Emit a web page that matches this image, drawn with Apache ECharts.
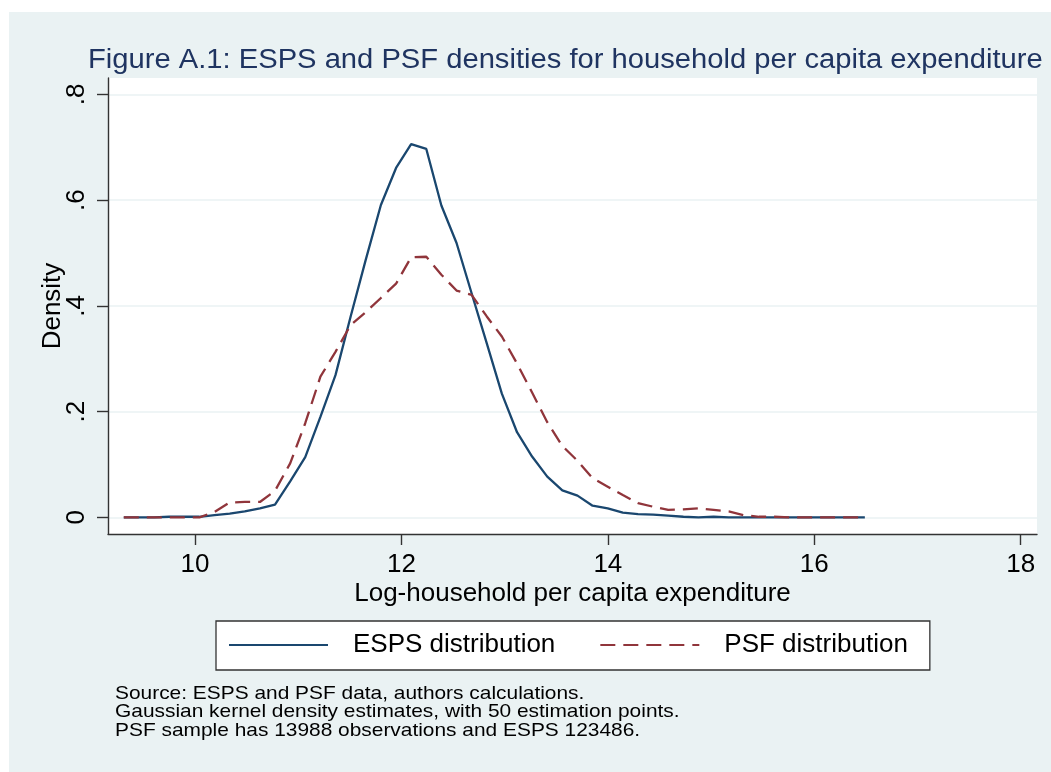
<!DOCTYPE html>
<html><head><meta charset="utf-8">
<script src="https://cdn.jsdelivr.net/npm/echarts@6.0.0/dist/echarts.min.js"></script>
<style>html,body{margin:0;padding:0;background:#fff}#c{width:1051px;height:772px}</style>
</head><body><div id="c"></div>
<script>
const xValues = [
  9.310, 9.457, 9.603, 9.750, 9.896, 10.043, 10.189, 10.336, 10.482, 10.629,
  10.775, 10.922, 11.068, 11.215, 11.361, 11.508, 11.654, 11.801, 11.948, 12.094,
  12.241, 12.387, 12.534, 12.680, 12.827, 12.973, 13.120, 13.266, 13.413, 13.559,
  13.706, 13.852, 13.999, 14.145, 14.292, 14.439, 14.585, 14.732, 14.878, 15.025,
  15.171, 15.318, 15.464, 15.611, 15.757, 15.904, 16.050, 16.197, 16.343, 16.490
];
const espsDensity = [
  0.000, 0.000, 0.000, 0.001, 0.001, 0.001, 0.004, 0.007, 0.011, 0.017,
  0.024, 0.068, 0.114, 0.190, 0.269, 0.380, 0.487, 0.591, 0.661, 0.706,
  0.697, 0.590, 0.519, 0.424, 0.329, 0.234, 0.161, 0.115, 0.077, 0.051,
  0.041, 0.022, 0.017, 0.009, 0.006, 0.005, 0.003, 0.001, 0.000, 0.001,
  0.000, 0.000, 0.000, 0.000, 0.000, 0.000, 0.000, 0.000, 0.000, 0.000
];
const psfDensity = [
  0.000, 0.000, 0.000, 0.000, 0.000, 0.000, 0.010, 0.028, 0.029, 0.029,
  0.050, 0.102, 0.178, 0.266, 0.313, 0.364, 0.388, 0.415, 0.442, 0.492,
  0.493, 0.459, 0.429, 0.421, 0.380, 0.342, 0.291, 0.236, 0.180, 0.135,
  0.107, 0.074, 0.058, 0.042, 0.027, 0.020, 0.014, 0.015, 0.017, 0.014,
  0.011, 0.004, 0.001, 0.001, 0.000, 0.000, 0.000, 0.000, 0.000, 0.000
];
const seriesNames = ['ESPS distribution', 'PSF distribution'];
const xTicks = [10, 12, 14, 16, 18];
const yTicks = [0, 0.2, 0.4, 0.6, 0.8];
const yTickLabels = ['0', '.2', '.4', '.6', '.8'];
const titleText = 'Figure A.1: ESPS and PSF densities for household per capita expenditure';
const xTitle = 'Log-household per capita expenditure';
const yTitle = 'Density';
const noteLines = [
  'Source: ESPS and PSF data, authors calculations.',
  'Gaussian kernel density estimates, with 50 estimation points.',
  'PSF sample has 13988 observations and ESPS 123486.'
];

const FONT = '"Liberation Sans", Arial, Helvetica, sans-serif';
const chart = echarts.init(document.getElementById('c'), null, {renderer: 'canvas'});

const graphics = [
  {type: 'rect', shape: {x: 0, y: 0, width: 1051, height: 12}, style: {fill: '#ffffff'}, silent: true},
  {type: 'rect', shape: {x: 0, y: 0, width: 9, height: 772}, style: {fill: '#ffffff'}, silent: true},
  {type: 'text', x: 88, y: 47, scaleX: 1.08, scaleY: 1,
   style: {text: titleText, x: 0, y: 0, fill: '#1f3461', font: '27px ' + FONT, textVerticalAlign: 'top', verticalAlign: 'top'}}
];
noteLines.forEach((t, i) => {
  graphics.push({type: 'text', x: 115, y: 684 + i * 18.5, scaleX: 1.1, scaleY: 1,
    style: {text: t, x: 0, y: 0, fill: '#000', font: '19px ' + FONT, textVerticalAlign: 'top', verticalAlign: 'top'}});
});

const option = {
  backgroundColor: '#eaf2f3',
  animation: false,
  graphic: graphics,
  grid: {left: 108, top: 78, width: 929, height: 456, show: true, backgroundColor: '#ffffff', borderWidth: 0, containLabel: false},
  legend: {
    data: seriesNames,
    left: 216, top: 621,
    orient: 'horizontal',
    backgroundColor: '#ffffff',
    borderColor: '#333333', borderWidth: 1.3,
    padding: [11, 22, 12, 12],
    itemWidth: 99, itemHeight: 26, itemGap: 44,
    itemStyle: {opacity: 0},
    textStyle: {fontSize: 26, color: '#000', fontFamily: FONT, padding: [0, 0, 0, 20]}
  },
  xAxis: {
    type: 'value', min: 9.157, max: 18.158,
    name: xTitle, nameLocation: 'middle', nameGap: 47, nameMoveOverlap: false,
    nameTextStyle: {fontSize: 26, color: '#000', fontFamily: FONT},
    axisLine: {show: true, onZero: false, lineStyle: {color: '#333', width: 1.4}},
    axisTick: {show: true, length: 11, customValues: xTicks, lineStyle: {color: '#333', width: 1.4}},
    axisLabel: {customValues: xTicks, fontSize: 26, color: '#000', fontFamily: FONT, margin: 18},
    splitLine: {show: false}
  },
  yAxis: {
    type: 'value', min: -0.0316, max: 0.8312,
    name: yTitle, nameLocation: 'middle', nameGap: 42, nameRotate: 90, nameMoveOverlap: false,
    nameTextStyle: {fontSize: 26, color: '#000', fontFamily: FONT},
    axisLine: {show: true, onZero: false, lineStyle: {color: '#333', width: 1.4}},
    axisTick: {show: true, length: 11, customValues: yTicks, lineStyle: {color: '#333', width: 1.4}},
    axisLabel: {
      customValues: yTicks, rotate: 90, fontSize: 26, color: '#000', fontFamily: FONT, margin: 18,
      formatter: v => { const k = yTicks.findIndex(t => Math.abs(t - v) < 1e-9); return k >= 0 ? yTickLabels[k] : ''; }
    },
    splitLine: {show: true, lineStyle: {color: '#eaf2f3', width: 1.6}}
  },
  series: [
    {
      name: seriesNames[0], type: 'line', symbol: 'none', smooth: false,
      data: xValues.map((x, i) => [x, espsDensity[i]]),
      lineStyle: {color: '#1a476f', width: 2.3}, itemStyle: {color: '#1a476f'}, z: 3
    },
    {
      name: seriesNames[1], type: 'line', symbol: 'none', smooth: false,
      data: xValues.map((x, i) => [x, psfDensity[i]]),
      lineStyle: {color: '#90353b', width: 2.3, type: [15, 8]}, itemStyle: {color: '#90353b'}, z: 4
    }
  ]
};
chart.setOption(option);
</script>
</body></html>
